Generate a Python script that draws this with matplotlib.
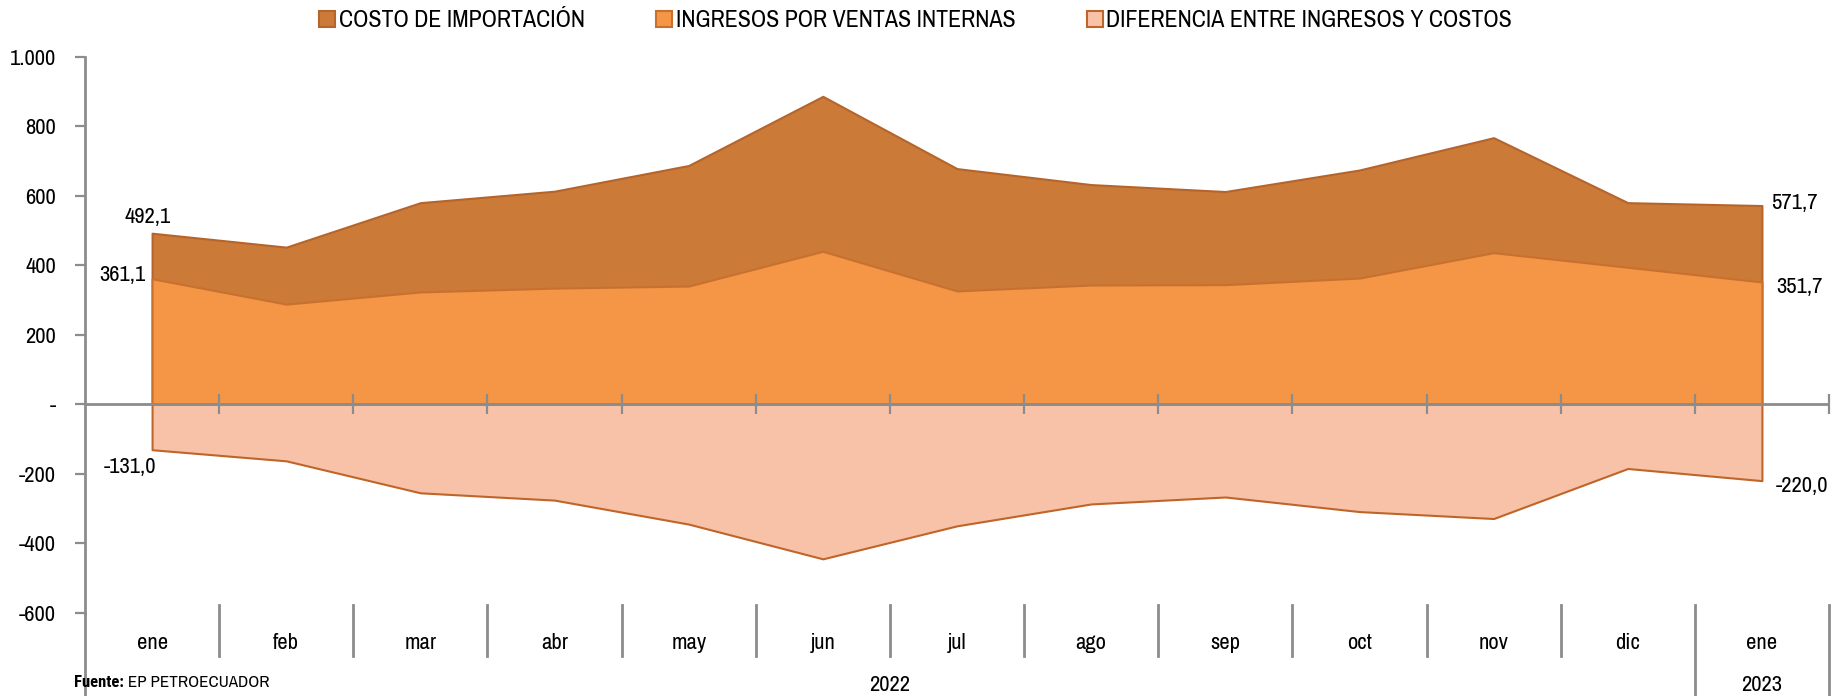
import matplotlib
matplotlib.use("Agg")
import matplotlib.pyplot as plt
from matplotlib import font_manager
from matplotlib.patches import Patch
from matplotlib.transforms import blended_transform_factory
import numpy as np

# ---------------- data ----------------
months = ["ene", "feb", "mar", "abr", "may", "jun", "jul", "ago", "sep", "oct", "nov", "dic", "ene"]
years = ["2022", "2023"]
series_names = ["COSTO DE IMPORTACIÓN", "INGRESOS POR VENTAS INTERNAS", "DIFERENCIA ENTRE INGRESOS Y COSTOS"]
costo = [492.1, 452, 580, 613, 687, 886, 678, 632, 612, 674, 767, 580, 571.7]
ingresos = [361.1, 288, 323, 334, 340, 440, 326, 343, 344, 363, 436, 394, 351.7]
diferencia = [-131.0, -163, -255, -276, -345, -445, -350, -287, -267, -309, -329, -185, -220.0]
yticks = [-600, -400, -200, 0, 200, 400, 600, 800, 1000]
ytick_labels = ["-600", "-400", "-200", "-", "200", "400", "600", "800", "1.000"]

# ---------------- fonts ----------------
fonts = font_manager.fontManager.ttflist
avail = {f.name for f in fonts}
prefs = ["Liberation Sans Narrow", "Arial Narrow", "Archivo Narrow", "Roboto Condensed",
         "PT Sans Narrow", "Fira Sans Condensed", "Pragati Narrow", "Liberation Sans"]
FONT = next(p for p in prefs if p in avail)
has_bold = any(f.name == FONT and (f.weight if isinstance(f.weight, int) else 400) >= 600 for f in fonts)
bold_prefs = [p for p in prefs if any(f.name == p and (f.weight if isinstance(f.weight, int) else 400) >= 600
                                      for f in fonts)]
FONT_BOLD = FONT if has_bold else (bold_prefs[0] if bold_prefs else FONT)
plt.rcParams['font.family'] = [FONT, 'DejaVu Sans']

C_COSTO = "#CB7A38"
E_COSTO = "#B5652B"
C_ING = "#F59646"
E_ING = "#C8712F"
C_DIF = "#F8C2A8"
E_DIF = "#C0652A"
GRAY = "#8C8C8C"

fig = plt.figure(figsize=(18.37, 6.96), dpi=100)
renderer = fig.canvas.get_renderer()


def size_for(text, target_px, base=17, **kw):
    t = fig.text(0, 0, text, fontsize=base, **kw)
    w = t.get_window_extent(renderer).width
    t.remove()
    return base * target_px / w


FS = size_for("1.000", 46.7)
FS_LEG = size_for(series_names[2], 406)
FS_SRC = size_for("EP PETROECUADOR", 140)
FS_SRC_B = size_for("Fuente:", 50, family=[FONT_BOLD], fontweight='bold')

ax = fig.add_axes([0.04627, 0.11968, 0.94938, 0.79885])

x = np.arange(len(months))
ax.fill_between(x, 0, costo, facecolor=C_COSTO, edgecolor=E_COSTO, linewidth=1.5, zorder=2)
ax.fill_between(x, 0, ingresos, facecolor=C_ING, edgecolor=E_ING, linewidth=1.5, zorder=3)
ax.fill_between(x, 0, diferencia, facecolor=C_DIF, edgecolor=E_DIF, linewidth=1.5, zorder=3)

ax.set_xlim(-0.5, len(months) - 0.5)
ax.set_ylim(-600, 1000)

# zero axis with category boundary ticks
ax.axhline(0, color=GRAY, lw=2, zorder=5)
ax.plot(x + 0.5, np.zeros(len(x)), linestyle='none', marker='|', markersize=14,
        mew=1.6, color=GRAY, zorder=5, clip_on=False)

for s in ["top", "right", "bottom"]:
    ax.spines[s].set_visible(False)
ax.spines["left"].set_color(GRAY)
ax.spines["left"].set_linewidth(2)
ax.plot([0, 0], [0, -0.16], transform=ax.transAxes, color=GRAY, lw=2, clip_on=False)

ax.set_yticks(yticks)
ax.set_yticklabels(ytick_labels)
ax.tick_params(axis='y', direction='out', length=7, width=1.6, color=GRAY,
               labelsize=FS, pad=14)
ax.set_xticks([])

# multi-level category labels
tb = blended_transform_factory(ax.transData, ax.transAxes)
for i, m in enumerate(months):
    ax.text(i, -0.0545, m, transform=tb, ha='center', va='center', fontsize=FS)
for k in range(len(months)):
    xb = k + 0.5
    y0 = -0.16 if k >= 11 else -0.078
    ax.plot([xb, xb], [0.0139, y0], transform=tb, color=GRAY, lw=2, clip_on=False)
ax.text(5.5, -0.130, years[0], transform=tb, ha='center', va='center', fontsize=FS)
ax.text(12, -0.130, years[1], transform=tb, ha='center', va='center', fontsize=FS)


# data labels (first and last)
def fmt(v):
    return f"{v:.1f}".replace(".", ",")


last = len(months) - 1
ax.annotate(fmt(costo[0]), (0, costo[0]), xytext=(-3, 11.5), textcoords='offset points',
            ha='center', va='center', fontsize=FS)
ax.annotate(fmt(ingresos[0]), (0, ingresos[0]), xytext=(-5, 2.5), textcoords='offset points',
            ha='right', va='center', fontsize=FS)
ax.annotate(fmt(diferencia[0]), (0, diferencia[0]), xytext=(-16, -12.6), textcoords='offset points',
            ha='center', va='center', fontsize=FS)
ax.annotate(fmt(costo[last]), (last, costo[last]), xytext=(6.5, 2), textcoords='offset points',
            ha='left', va='center', fontsize=FS, annotation_clip=False)
ax.annotate(fmt(ingresos[last]), (last, ingresos[last]), xytext=(10, -3.6), textcoords='offset points',
            ha='left', va='center', fontsize=FS, annotation_clip=False)
ax.annotate(fmt(diferencia[last]), (last, diferencia[last]), xytext=(10, -3.6), textcoords='offset points',
            ha='left', va='center', fontsize=FS, annotation_clip=False)

# legend
handles = [Patch(facecolor=C_COSTO, edgecolor=E_COSTO, lw=1.5),
           Patch(facecolor=C_ING, edgecolor=E_ING, lw=1.5),
           Patch(facecolor=C_DIF, edgecolor=E_DIF, lw=1.5)]
fig.legend(handles, series_names, loc='center', bbox_to_anchor=(0.4985, 0.970), ncol=3,
           frameon=False, fontsize=FS_LEG, handlelength=0.65, handleheight=0.65,
           handletextpad=0.15, columnspacing=3.0, borderaxespad=0, borderpad=0)

# source
t1 = fig.text(0.0403, 0.0187, "Fuente:", fontsize=FS_SRC_B, fontweight='bold',
              family=[FONT_BOLD, 'DejaVu Sans'], ha='left', va='center')
ax.annotate(" EP PETROECUADOR", xy=(1, 0.5), xycoords=t1, ha='left', va='center', fontsize=FS_SRC)

fig.savefig("out.png", dpi=100)
